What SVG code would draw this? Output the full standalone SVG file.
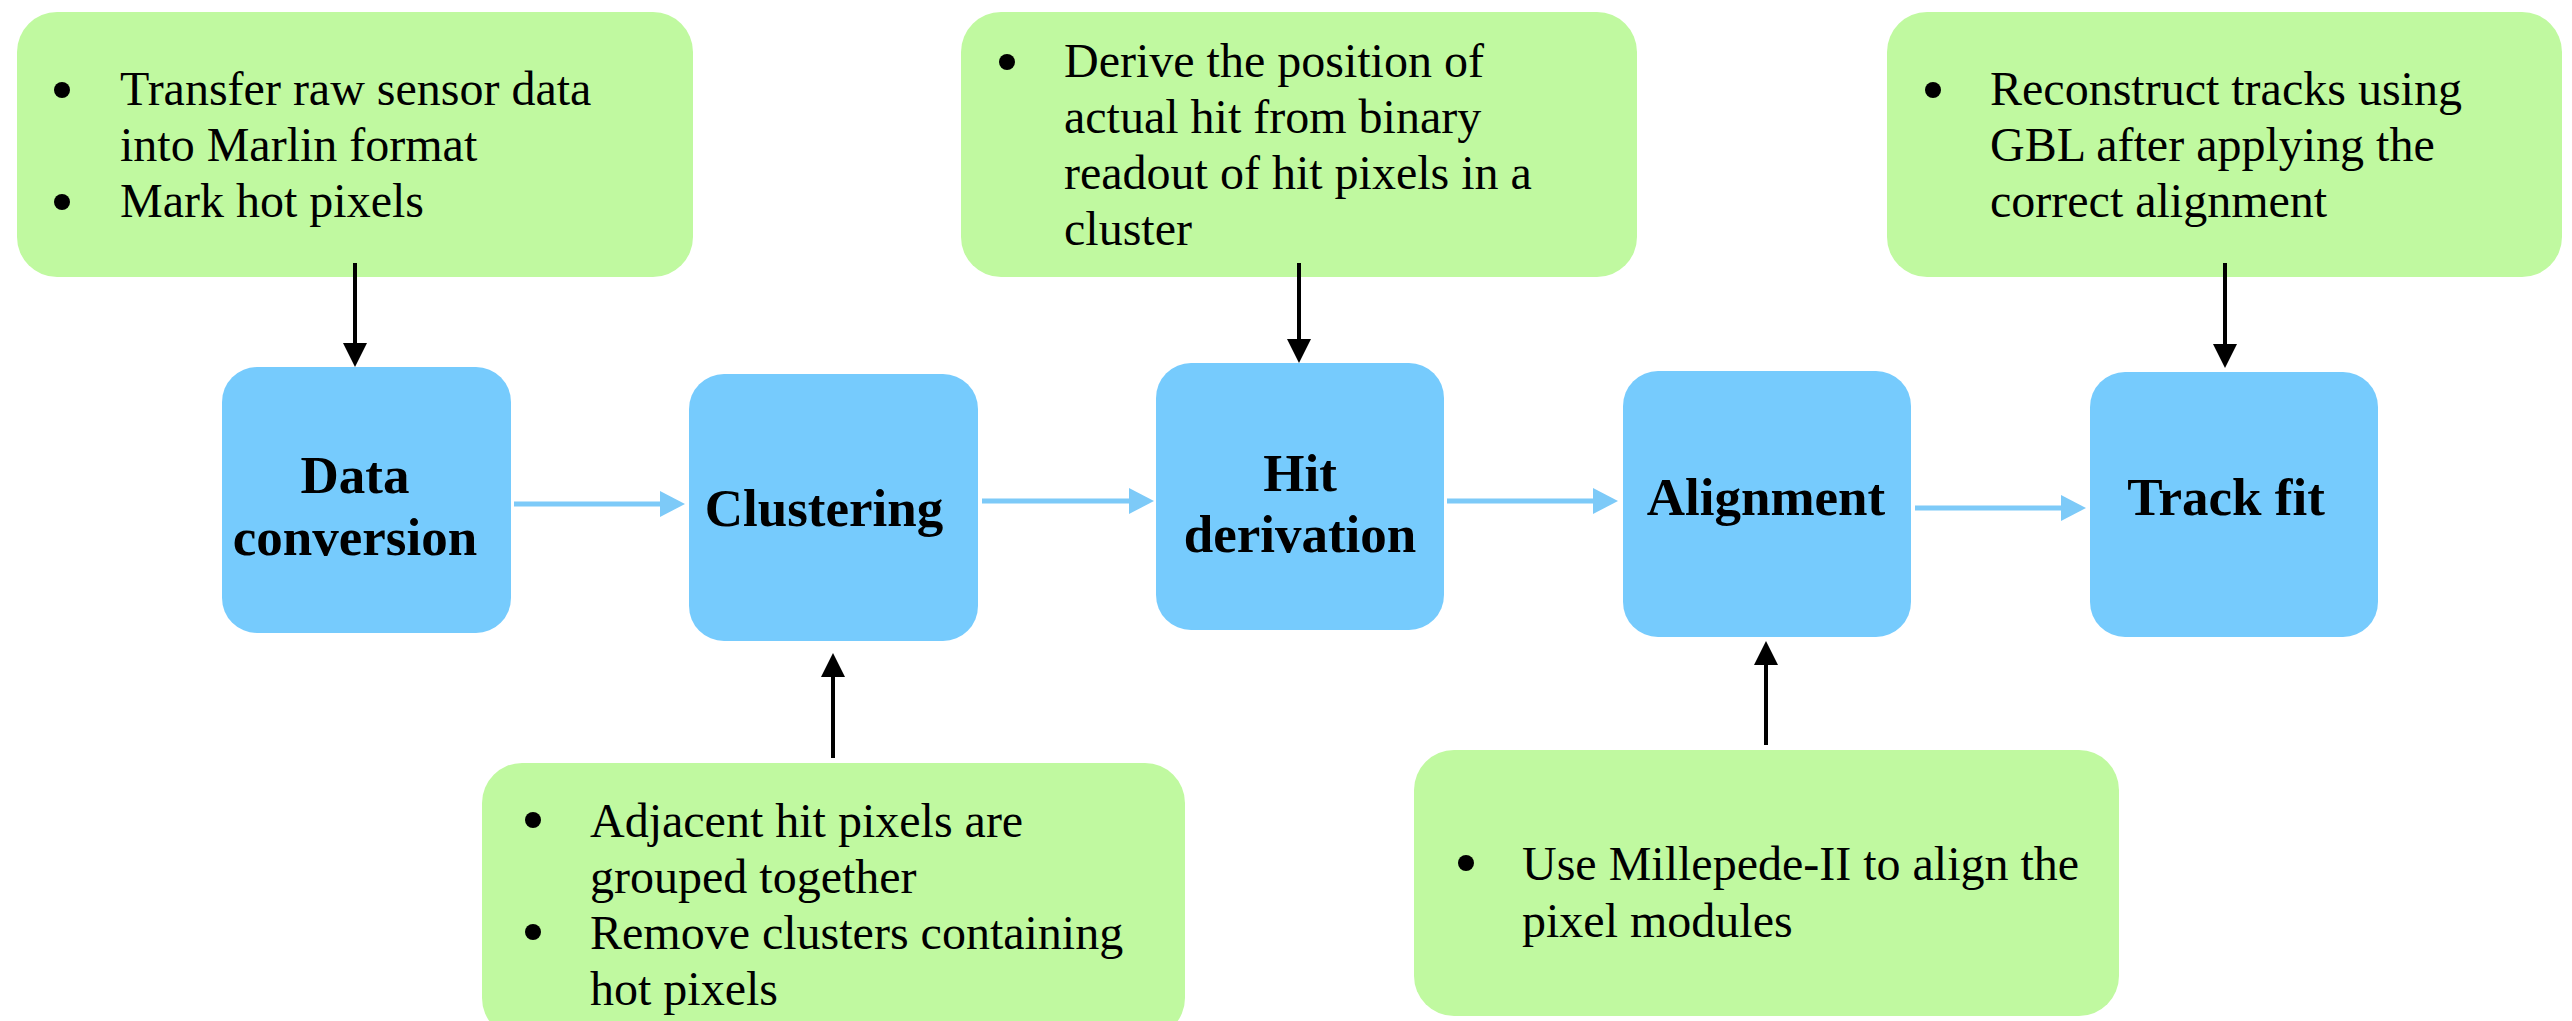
<svg xmlns="http://www.w3.org/2000/svg" width="2572" height="1021" viewBox="0 0 2572 1021">
<style>
.note{fill:#c0f9a0}
.step{fill:#76cbfd}
.bt{font-family:"Liberation Serif","Times New Roman",serif;font-size:48px;fill:#000}
.lb{font-family:"Liberation Serif","Times New Roman",serif;font-size:53px;font-weight:bold;fill:#000;text-anchor:middle}
.blk{stroke:#000;stroke-width:4;fill:none}
.blu{stroke:#7dcaf8;stroke-width:5;fill:none}
.dot{fill:#000}
</style>
<defs>
<marker id="hb" markerUnits="userSpaceOnUse" viewBox="0 -12 24 24" markerWidth="24" markerHeight="24" refX="0" refY="0" orient="auto">
<path d="M0,-12 L24,0 L0,12 z" fill="#000"/>
</marker>
<marker id="hl" markerUnits="userSpaceOnUse" viewBox="0 -13 25 26" markerWidth="25" markerHeight="26" refX="0" refY="0" orient="auto">
<path d="M0,-13 L25,0 L0,13 z" fill="#7dcaf8"/>
</marker>
</defs>
<rect width="2572" height="1021" fill="#fff"/>

<g id="note-conversion">
<rect class="note" x="17" y="12" width="676" height="265" rx="40"/>
<circle class="dot" cx="62" cy="90" r="8"/>
<circle class="dot" cx="62" cy="202" r="8"/>
<text class="bt" x="120" y="105">Transfer raw sensor data</text>
<text class="bt" x="120" y="161">into Marlin format</text>
<text class="bt" x="120" y="217">Mark hot pixels</text>
</g>

<g id="note-hit">
<rect class="note" x="961" y="12" width="676" height="265" rx="40"/>
<circle class="dot" cx="1007" cy="62" r="8"/>
<text class="bt" x="1064" y="77">Derive the position of</text>
<text class="bt" x="1064" y="133">actual hit from binary</text>
<text class="bt" x="1064" y="189">readout of hit pixels in a</text>
<text class="bt" x="1064" y="245">cluster</text>
</g>

<g id="note-track">
<rect class="note" x="1887" y="12" width="675" height="265" rx="40"/>
<circle class="dot" cx="1933" cy="90" r="8"/>
<text class="bt" x="1990" y="105">Reconstruct tracks using</text>
<text class="bt" x="1990" y="161">GBL after applying the</text>
<text class="bt" x="1990" y="217">correct alignment</text>
</g>

<g id="note-clustering">
<rect class="note" x="482" y="763" width="703" height="275" rx="40"/>
<circle class="dot" cx="533" cy="820" r="8"/>
<circle class="dot" cx="533" cy="932" r="8"/>
<text class="bt" x="590" y="837">Adjacent hit pixels are</text>
<text class="bt" x="590" y="893">grouped together</text>
<text class="bt" x="590" y="949">Remove clusters containing</text>
<text class="bt" x="590" y="1005">hot pixels</text>
</g>

<g id="note-alignment">
<rect class="note" x="1414" y="750" width="705" height="266" rx="40"/>
<circle class="dot" cx="1466" cy="863" r="8"/>
<text class="bt" x="1522" y="880">Use Millepede-II to align the</text>
<text class="bt" x="1522" y="937">pixel modules</text>
</g>

<g id="step-data-conversion">
<rect class="step" x="222" y="367" width="289" height="266" rx="35"/>
<text class="lb" x="355" y="493">Data</text>
<text class="lb" x="355" y="555">conversion</text>
</g>

<g id="step-clustering">
<rect class="step" x="689" y="374" width="289" height="267" rx="35"/>
<text class="lb" x="824" y="526">Clustering</text>
</g>

<g id="step-hit-derivation">
<rect class="step" x="1156" y="363" width="288" height="267" rx="35"/>
<text class="lb" x="1300" y="491">Hit</text>
<text class="lb" x="1300" y="552">derivation</text>
</g>

<g id="step-alignment">
<rect class="step" x="1623" y="371" width="288" height="266" rx="35"/>
<text class="lb" x="1766" y="515">Alignment</text>
</g>

<g id="step-track-fit">
<rect class="step" x="2090" y="372" width="288" height="265" rx="35"/>
<text class="lb" x="2226" y="515">Track fit</text>
</g>

<g id="connectors">
<line class="blk" x1="355" y1="263" x2="355" y2="343" marker-end="url(#hb)"/>
<line class="blk" x1="1299" y1="263" x2="1299" y2="339" marker-end="url(#hb)"/>
<line class="blk" x1="2225" y1="263" x2="2225" y2="344" marker-end="url(#hb)"/>
<line class="blk" x1="833" y1="758" x2="833" y2="677" marker-end="url(#hb)"/>
<line class="blk" x1="1766" y1="745" x2="1766" y2="665" marker-end="url(#hb)"/>
<line class="blu" x1="514" y1="504" x2="660" y2="504" marker-end="url(#hl)"/>
<line class="blu" x1="982" y1="501" x2="1129" y2="501" marker-end="url(#hl)"/>
<line class="blu" x1="1447" y1="501" x2="1593" y2="501" marker-end="url(#hl)"/>
<line class="blu" x1="1915" y1="508" x2="2061" y2="508" marker-end="url(#hl)"/>
</g>
</svg>
